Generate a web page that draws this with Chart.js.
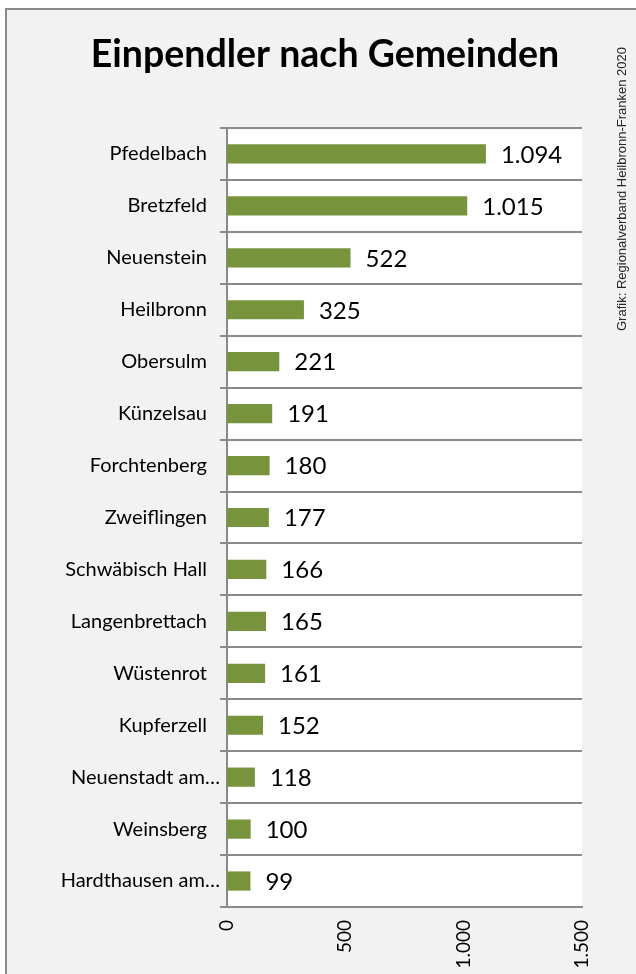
<!DOCTYPE html>
<html>
<head>
<meta charset="utf-8">
<script src="https://cdn.jsdelivr.net/npm/chart.js@4"></script>
<style>
  html, body { margin: 0; padding: 0; background: #ffffff; }
  body { width: 636px; height: 974px; position: relative; overflow: hidden; }
  #frame { position: absolute; left: 5px; top: 8px; width: 700px; height: 1000px;
           border: 2px solid #8a8a8a; background: #f2f2f2; }
  #c { position: absolute; left: 0; top: 0; }
</style>
</head>
<body>
<div id="frame"></div>
<canvas id="c" width="636" height="974"></canvas>
<script>
const titleText = 'Einpendler nach Gemeinden';
const creditText = 'Grafik: Regionalverband Heilbronn-Franken 2020';
const categories = ['Pfedelbach', 'Bretzfeld', 'Neuenstein', 'Heilbronn', 'Obersulm', 'Künzelsau',
  'Forchtenberg', 'Zweiflingen', 'Schwäbisch Hall', 'Langenbrettach', 'Wüstenrot', 'Kupferzell',
  'Neuenstadt am…', 'Weinsberg', 'Hardthausen am…'];
const values = [1094, 1015, 522, 325, 221, 191, 180, 177, 166, 165, 161, 152, 118, 100, 99];
const xTicks = [0, 500, 1000, 1500];

function fmt(v) {
  return String(Math.round(v)).replace(/\B(?=(\d{3})+(?!\d))/g, '.');
}

const plotBg = {
  id: 'plotBg',
  beforeDraw(chart) {
    const a = chart.chartArea, ctx = chart.ctx;
    ctx.save();
    ctx.fillStyle = '#ffffff';
    ctx.fillRect(a.left, a.top, a.right - a.left, a.bottom - a.top);
    ctx.restore();
    // truncated labels sit closer to the axis (as in the original)
    const ys = chart.scales.y;
    const items = ys.getLabelItems(chart.chartArea);
    items.forEach(it => {
      if (typeof it.label === 'string' && it.label.endsWith('…') && !it._shifted) {
        it.options.translation[0] += 13;
        it._shifted = true;
      }
    });
  }
};

const valueLabels = {
  id: 'valueLabels',
  afterDatasetsDraw(chart) {
    const ctx = chart.ctx;
    const meta = chart.getDatasetMeta(0);
    ctx.save();
    ctx.font = '24px Lato';
    ctx.fillStyle = '#000000';
    ctx.textAlign = 'left';
    ctx.textBaseline = 'middle';
    meta.data.forEach((bar, i) => {
      ctx.fillText(fmt(values[i]), bar.x + 15, bar.y + 1);
    });
    ctx.restore();
  }
};

const headerTexts = {
  id: 'headerTexts',
  afterDraw(chart) {
    const ctx = chart.ctx;
    ctx.save();
    ctx.font = 'bold 37.5px Lato';
    ctx.fillStyle = '#000000';
    ctx.textAlign = 'center';
    ctx.textBaseline = 'alphabetic';
    ctx.fillText(titleText, 325, 67);
    ctx.translate(622, 331);
    ctx.rotate(-Math.PI / 2);
    ctx.font = '13px "Liberation Sans"';
    ctx.fillStyle = '#262626';
    ctx.textAlign = 'left';
    ctx.textBaseline = 'middle';
    ctx.fillText(creditText, 0, 0);
    ctx.restore();
  }
};

new Chart(document.getElementById('c'), {
  type: 'bar',
  data: {
    labels: categories,
    datasets: [{
      data: values,
      backgroundColor: '#77933c',
      borderWidth: 0,
      categoryPercentage: 1,
      barPercentage: 0.37
    }]
  },
  options: {
    indexAxis: 'y',
    responsive: false,
    animation: false,
    devicePixelRatio: 1,
    layout: { padding: { left: 0, right: 54, top: 128, bottom: 0 } },
    plugins: {
      legend: { display: false },
      tooltip: { enabled: false },
      title: { display: false }
    },
    scales: {
      y: {
        grid: { offset: true, color: '#8a8a8a', lineWidth: 2, drawTicks: true, tickLength: 7 },
        border: { display: true, color: '#8a8a8a', width: 2 },
        ticks: { color: '#000000', font: { family: 'Lato', size: 20 }, padding: 13, autoSkip: false },
        afterFit(s) { s.width = 227; s.paddingTop = 0; s.paddingBottom = 0; }
      },
      x: {
        min: 0, max: 1500,
        afterBuildTicks(s) { s.ticks = xTicks.map(v => ({ value: v })); },
        grid: { display: false, drawTicks: false },
        border: { display: true, color: '#8a8a8a', width: 2 },
        ticks: {
          color: '#000000', font: { family: 'Lato', size: 19 }, padding: 13,
          minRotation: 90, maxRotation: 90,
          callback: (v) => fmt(v)
        },
        afterFit(s) { s.height = 67; s.paddingLeft = 0; s.paddingRight = 0; }
      }
    }
  },
  plugins: [plotBg, valueLabels, headerTexts]
});
</script>
</body>
</html>
